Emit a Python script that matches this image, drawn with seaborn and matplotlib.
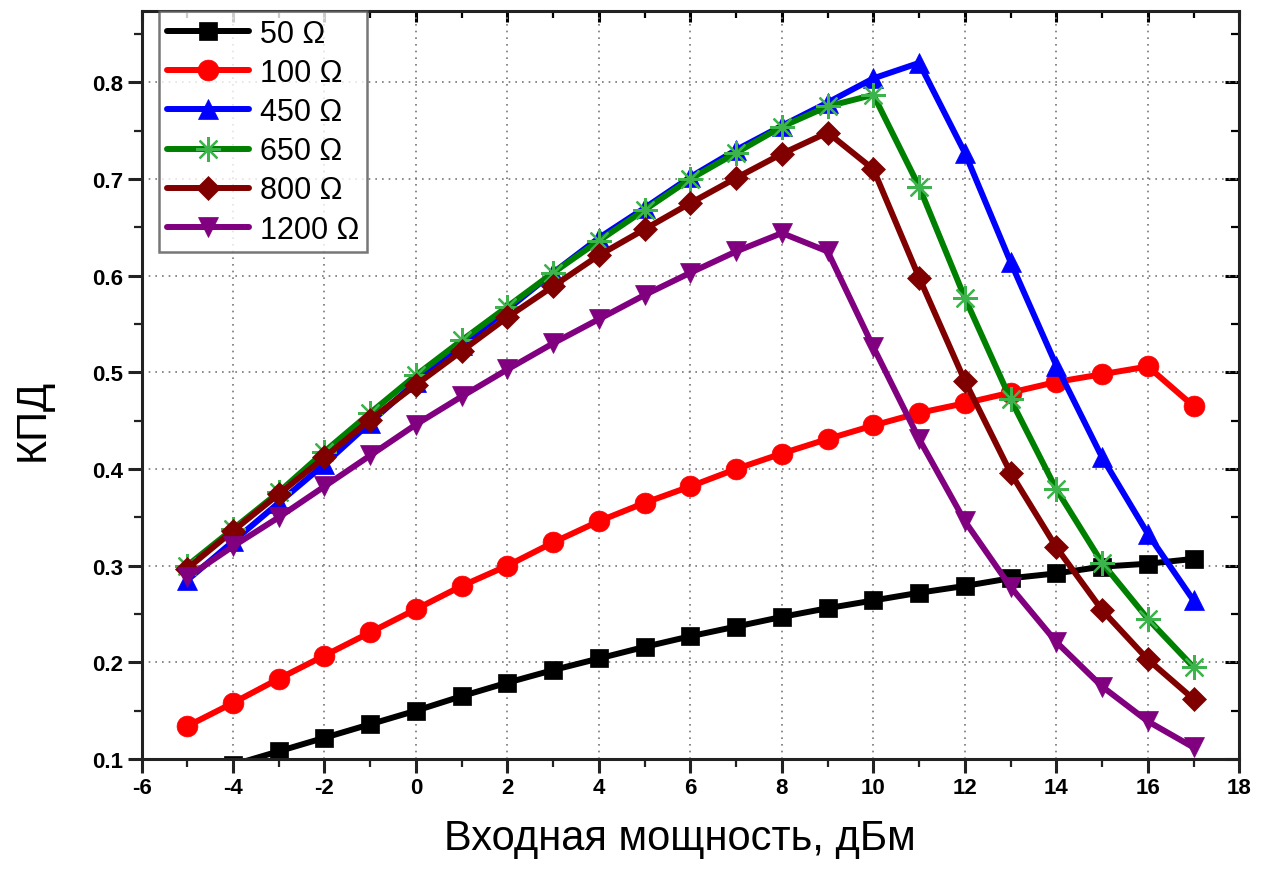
import numpy as np
import pandas as pd
import matplotlib
matplotlib.use("Agg")
import matplotlib.pyplot as plt
import seaborn as sns
from matplotlib.ticker import MultipleLocator

power_dbm = list(range(-5, 18))

eff_50 = [0.082, 0.094, 0.108, 0.122, 0.136, 0.150, 0.165, 0.179, 0.192, 0.204, 0.216, 0.227,
          0.237, 0.247, 0.256, 0.264, 0.272, 0.279, 0.287, 0.292, 0.299, 0.302, 0.307]
eff_100 = [0.134, 0.158, 0.183, 0.207, 0.231, 0.255, 0.279, 0.300, 0.324, 0.346, 0.365, 0.382,
           0.400, 0.416, 0.431, 0.445, 0.458, 0.468, 0.479, 0.490, 0.498, 0.506, 0.465]
eff_450 = [0.285, 0.325, 0.365, 0.405, 0.448, 0.490, 0.528, 0.565, 0.603, 0.639, 0.670, 0.702,
           0.730, 0.755, 0.779, 0.804, 0.820, 0.727, 0.614, 0.507, 0.412, 0.333, 0.264]
eff_650 = [0.300, 0.338, 0.376, 0.418, 0.458, 0.497, 0.533, 0.568, 0.603, 0.636, 0.668, 0.700,
           0.727, 0.754, 0.775, 0.787, 0.692, 0.577, 0.472, 0.379, 0.303, 0.245, 0.195]
eff_800 = [0.297, 0.336, 0.374, 0.412, 0.451, 0.487, 0.522, 0.557, 0.589, 0.621, 0.648, 0.675,
           0.701, 0.726, 0.748, 0.710, 0.598, 0.491, 0.396, 0.319, 0.254, 0.203, 0.162]
eff_1200 = [0.288, 0.320, 0.350, 0.382, 0.414, 0.446, 0.475, 0.503, 0.530, 0.555, 0.580, 0.603,
            0.625, 0.644, 0.625, 0.526, 0.431, 0.346, 0.278, 0.221, 0.175, 0.139, 0.112]

labels = ["50 Ω", "100 Ω", "450 Ω", "650 Ω", "800 Ω", "1200 Ω"]
series = [eff_50, eff_100, eff_450, eff_650, eff_800, eff_1200]
colors = ["#000000", "#ff0000", "#0000ff", "#008000", "#800000", "#800080"]
markers = ["s", "o", "^", (8, 2, 0), "D", "v"]
msizes = [13, 15, 15, 18, 12, 15]

x_ticks = list(range(-6, 19, 2))
y_ticks = [0.1, 0.2, 0.3, 0.4, 0.5, 0.6, 0.7, 0.8]

sns.set_theme(style="white")
plt.rcParams['font.family'] = ['Liberation Sans', 'DejaVu Sans']
plt.rcParams['text.color'] = 'black'
plt.rcParams['axes.labelcolor'] = 'black'
plt.rcParams['xtick.color'] = 'black'
plt.rcParams['ytick.color'] = 'black'

fig = plt.figure(figsize=(12.75, 8.7), dpi=100)
ax = fig.add_axes([0.111, 0.1264, 0.861, 0.8596])

for lab, vals, c, m, ms in zip(labels, series, colors, markers, msizes):
    df = pd.DataFrame({"x": power_dbm, "y": vals})
    kw = dict(marker=m, markersize=ms, markerfacecolor=c, markeredgecolor=c)
    if lab == "650 Ω":
        kw.update(markeredgecolor="#3cb44b", markeredgewidth=1.6)
    else:
        kw.update(markeredgewidth=0.5)
    sns.lineplot(data=df, x="x", y="y", ax=ax, color=c, linewidth=4.3,
                 label=lab, **kw)

ax.set_xlim(-6, 18)
ax.set_ylim(0.1, 0.8735)
ax.set_xticks(x_ticks)
ax.set_xticklabels([str(v) for v in x_ticks])
ax.xaxis.set_minor_locator(MultipleLocator(1))
ax.set_yticks(y_ticks)
ax.set_yticklabels([f"{v:.1f}" for v in y_ticks])
ax.yaxis.set_minor_locator(MultipleLocator(0.05))

for lbl in ax.get_xticklabels() + ax.get_yticklabels():
    lbl.set_fontweight("bold")
    lbl.set_fontsize(16)

ax.grid(True, which="major", color="#777777", linestyle=(0, (1, 3)), linewidth=1.2)
for s in ax.spines.values():
    s.set_visible(True)
    s.set_color("#222222")
    s.set_linewidth(2.2)

ax.tick_params(axis="both", which="major", direction="out", length=10, width=2.2,
               bottom=True, left=True, colors="#222222", labelcolor="black", pad=3)
ax.tick_params(axis="both", which="minor", direction="out", length=6, width=1.6,
               bottom=True, left=True, colors="#222222")
axt = ax.secondary_xaxis("top")
axt.set_xticks(x_ticks)
axt.xaxis.set_minor_locator(MultipleLocator(1))
axt.tick_params(direction="in", length=8, width=2.2, labeltop=False)
axt.tick_params(which="minor", direction="in", length=5, width=1.6)
axt.set_xticklabels([])
axr = ax.secondary_yaxis("right")
axr.set_yticks(y_ticks)
axr.yaxis.set_minor_locator(MultipleLocator(0.05))
axr.tick_params(direction="in", length=10, width=2.2)
axr.tick_params(which="minor", direction="in", length=6, width=1.6)
axr.set_yticklabels([])

ax.set_xlabel("Входная мощность, дБм", fontsize=30)
ax.xaxis.set_label_coords(0.49, -0.079, transform=ax.transAxes)
ax.xaxis.label.set_va("top")
ax.set_ylabel("КПД", fontsize=30)
ax.yaxis.set_label_coords(-0.099, 0.455, transform=ax.transAxes)
ax.yaxis.label.set_va("center")

leg = ax.legend(loc="upper left", bbox_to_anchor=(0.016, 1.0), fontsize=22,
                frameon=True, fancybox=False, handlelength=2.7, handletextpad=0.35,
                borderpad=0.25, labelspacing=0.3, borderaxespad=0.0)
leg.get_frame().set_edgecolor("#555555")
leg.get_frame().set_linewidth(1.8)

fig.savefig("out.png", dpi=100)
